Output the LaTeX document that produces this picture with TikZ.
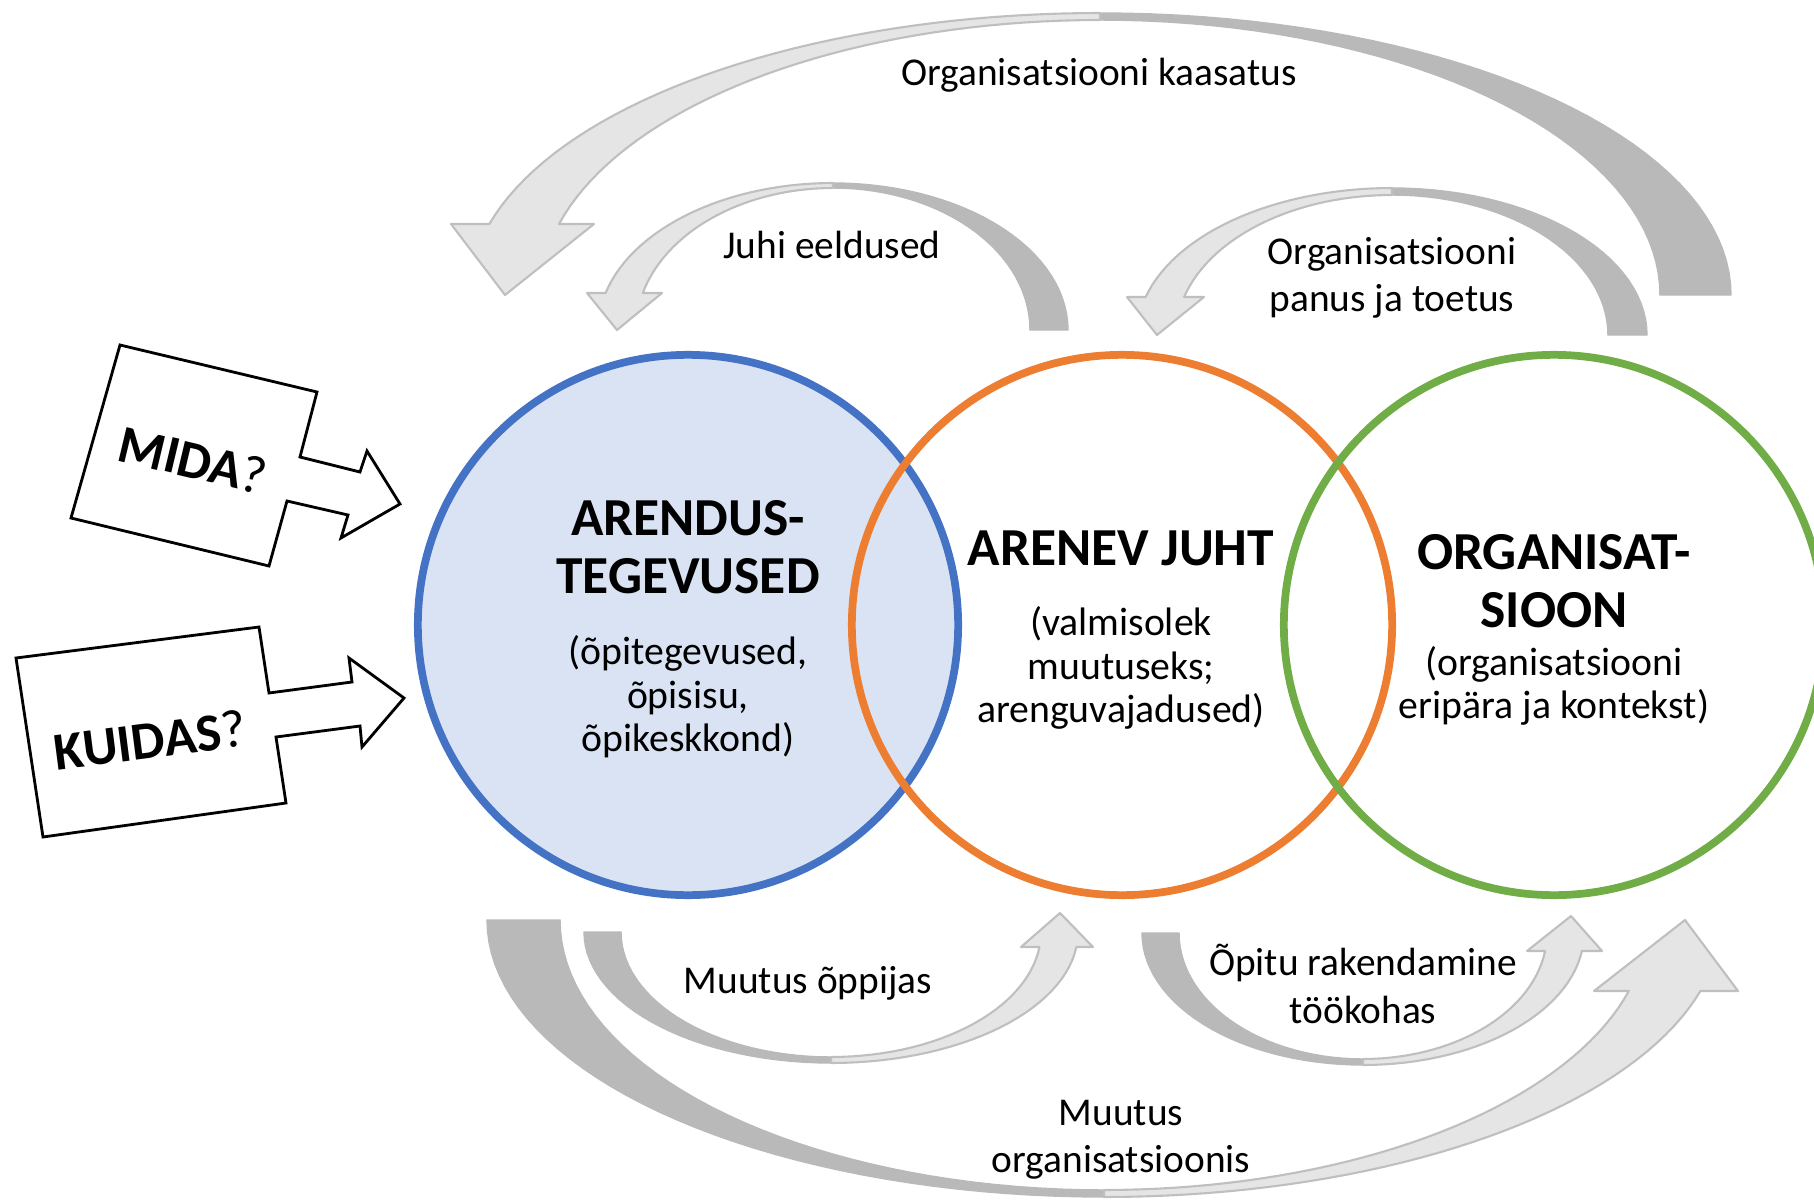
\documentclass[tikz,border=0pt]{standalone}
\usepackage{fontspec}
\setmainfont{Carlito}
\usepackage{tikz}
\definecolor{ringblue}{HTML}{4472C4}
\definecolor{ringfill}{HTML}{DAE3F3}
\definecolor{ringorange}{HTML}{ED7D31}
\definecolor{ringgreen}{HTML}{70AD47}
\begin{document}
\begin{tikzpicture}[x=0.01cm, y=-0.01cm]%
\tikzstyle{backband} = [fill=gray!55, draw=gray!55, line width=0.4pt]
\tikzstyle{frontband} = [fill=gray!20, draw=gray!50, line width=0.6pt, line join=round]
\tikzstyle{ringnode} = [circle, minimum size=5.4cm, inner sep=0pt, line width=2.2pt]
\tikzstyle{titletext} = [font=\fontsize{15.2}{16.4}\selectfont\bfseries, align=center]
\tikzstyle{subtext} = [font=\fontsize{11.3}{12.4}\selectfont, align=center]
\tikzstyle{arrowtext} = [font=\fontsize{11.2}{13.4}\selectfont, align=center]
\tikzstyle{askbox} = [draw=black, fill=white, line width=0.8pt]

\useasboundingbox (0,0) rectangle (1814,1200);
\clip (0,0) rectangle (1814,1200);

% circles
\node [ringnode, draw=ringblue, fill=ringfill] (tegevused) at (688,625) {};
\node [ringnode, draw=ringorange] (juht) at (1122,625) {};
\node [ringnode, draw=ringgreen] (organisatsioon) at (1554,625) {};

\node [titletext] (tegtitle) at (688,547) {ARENDUS-\\TEGEVUSED};
\node [subtext] (tegsub) at (688,697) {(õpitegevused,\\õpisisu,\\õpikeskkond)};
\node [titletext] (juhttitle) at (1121,548) {ARENEV JUHT};
\node [subtext] (juhtsub) at (1121,668) {(valmisolek\\muutuseks;\\arenguvajadused)};
\node [titletext] (orgtitle) at (1554,581) {ORGANISAT-\\SIOON};
\node [subtext] (orgsub) at (1554,686) {(organisatsiooni\\eripära ja kontekst)};

% top arrows
\path [backband] plot[domain=0:-90, samples=40] ({1100+631*cos(\x)},{295+282*sin(\x)})
  -- plot[domain=-90:0, samples=40] ({1100+560*cos(\x)},{295+275*sin(\x)}) -- cycle;
\path [frontband] plot[domain=-90:-165.42, samples=40] ({1100+631*cos(\x)},{295+282*sin(\x)})
  -- (451,224) -- (505,295) -- (594,224)
  -- plot[domain=-165.04:-90, samples=40] ({1100+560*cos(\x)},{295+275*sin(\x)}) -- cycle;

\path [backband] plot[domain=0:-90, samples=30] ({833+235*cos(\x)},{330+147*sin(\x)})
  -- plot[domain=-90:0, samples=30] ({833+197*cos(\x)},{330+142*sin(\x)}) -- cycle;
\path [frontband] plot[domain=-90:-165.42, samples=30] ({833+235*cos(\x)},{330+147*sin(\x)})
  -- (587,293) -- (617,330) -- (662,293)
  -- plot[domain=-164.9:-90, samples=30] ({833+197*cos(\x)},{330+142*sin(\x)}) -- cycle;

\path [backband] plot[domain=0:-90, samples=30] ({1392+255*cos(\x)},{335+147*sin(\x)})
  -- plot[domain=-90:0, samples=30] ({1392+216*cos(\x)},{335+140*sin(\x)}) -- cycle;
\path [frontband] plot[domain=-90:-165.02, samples=30] ({1392+255*cos(\x)},{335+147*sin(\x)})
  -- (1127,297) -- (1157,335) -- (1204,297)
  -- plot[domain=-164.25:-90, samples=30] ({1392+216*cos(\x)},{335+140*sin(\x)}) -- cycle;

% bottom arrows
\path [backband] plot[domain=180:90, samples=40] ({1104+617*cos(\x)},{920+277*sin(\x)})
  -- plot[domain=90:180, samples=40] ({1104+544*cos(\x)},{920+270*sin(\x)}) -- cycle;
\path [frontband] plot[domain=90:14.85, samples=40] ({1104+617*cos(\x)},{920+277*sin(\x)})
  -- (1738,991) -- (1685,920) -- (1594,991)
  -- plot[domain=15.25:90, samples=40] ({1104+544*cos(\x)},{920+270*sin(\x)}) -- cycle;

\path [backband] plot[domain=180:90, samples=30] ({831+247*cos(\x)},{932+131*sin(\x)})
  -- plot[domain=90:180, samples=30] ({831+210*cos(\x)},{932+125*sin(\x)}) -- cycle;
\path [frontband] plot[domain=90:6.57, samples=30] ({831+247*cos(\x)},{932+131*sin(\x)})
  -- (1093,947) -- (1060,913) -- (1021,947)
  -- plot[domain=6.89:90, samples=30] ({831+210*cos(\x)},{932+125*sin(\x)}) -- cycle;

\path [backband] plot[domain=180:90, samples=30] ({1363+221*cos(\x)},{933+132*sin(\x)})
  -- plot[domain=90:180, samples=30] ({1363+184*cos(\x)},{933+126*sin(\x)}) -- cycle;
\path [frontband] plot[domain=90:7.84, samples=30] ({1363+221*cos(\x)},{933+132*sin(\x)})
  -- (1602,951) -- (1571,916) -- (1527,951)
  -- plot[domain=8.21:90, samples=30] ({1363+184*cos(\x)},{933+126*sin(\x)}) -- cycle;

% arrow texts
\node [arrowtext] (kaasatus) at (1099,75) {Organisatsiooni kaasatus};
\node [arrowtext] (eeldused) at (832,245) {Juhi eeldused};
\node [arrowtext] (panus) at (1392,278) {Organisatsiooni\\panus ja toetus};
\node [arrowtext] (oppijas) at (808,983) {Muutus õppijas};
\node [arrowtext] (rakendamine) at (1363,984) {Õpitu rakendamine\\töökohas};
\node [arrowtext] (muutus) at (1121,1140) {Muutus\\organisatsioonis};

% question boxes
\draw [askbox] (120,345) -- (317,392) -- (300,457) -- (360,472) -- (367,451) -- (400,504)
  -- (341,538) -- (348,515) -- (287,501) -- (269,566) -- (71,518) -- cycle;
\draw [askbox] (16,658) -- (259,627) -- (269,693) -- (352,682) -- (349,658) -- (404,698)
  -- (362,747) -- (360,726) -- (276,737) -- (286,803) -- (43,837) -- cycle;
\node [titletext, rotate=-13.4] (mida) at (193,460) {MIDA{\mdseries ?}};
\node [titletext, rotate=7.3] (kuidas) at (150,740) {KUIDAS{\mdseries ?}};
\end{tikzpicture}
\end{document}
